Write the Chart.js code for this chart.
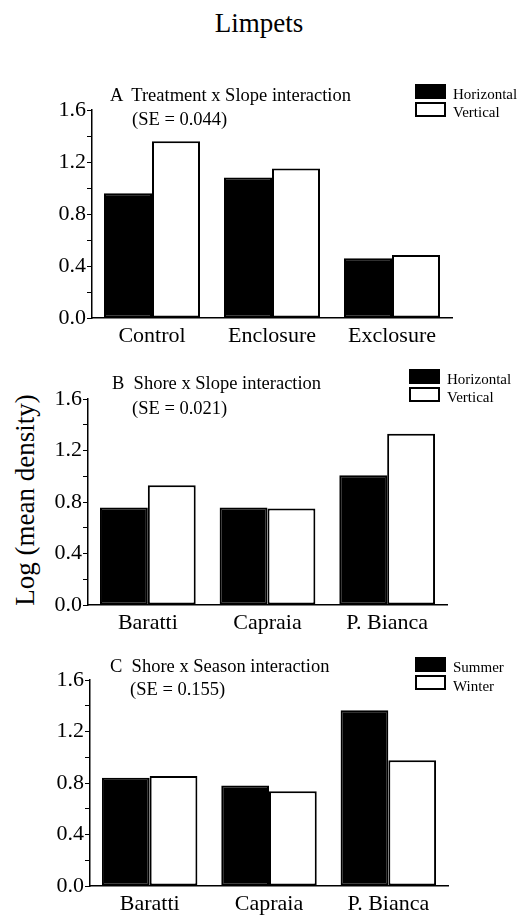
<!DOCTYPE html>
<html>
<head>
<meta charset="UTF-8">
<title>Limpets</title>
<script src="https://cdn.jsdelivr.net/npm/chart.js@4.4.1/dist/chart.umd.min.js"></script>
<style>
  body { margin: 0; background: #fff; }
  #page { position: relative; width: 518px; height: 915px; background: #fff; font-family: "Liberation Serif", "DejaVu Serif", serif; color: #000; overflow: hidden; }
  .txt { position: absolute; line-height: 1; white-space: pre; }
  .panel { position: absolute; left: 0; }
  .box { position: absolute; width: 27px; height: 11px; border: 2px solid #000; }
  #ytitle { position: absolute; font-size: 27px; line-height: 1; white-space: nowrap; transform: translate(-50%, -50%) rotate(-90deg); left: 25px; top: 500px; }
</style>
</head>
<body>
<div id="page">
  <div class="txt" style="left:0;width:518px;text-align:center;top:10px;font-size:27px;">Limpets</div>
  <div id="ytitle">Log (mean density)</div>
</div>

<script>
  // categories
  var treatments = ["Control", "Enclosure", "Exclosure"];
  var shores = ["Baratti", "Capraia", "P. Bianca"];

  // series values (log mean density)
  var treatHorizontal = [0.96, 1.08, 0.46];
  var treatVertical   = [1.36, 1.15, 0.485];
  var shoreHorizontal = [0.757, 0.757, 1.008];
  var shoreVertical   = [0.93, 0.75, 1.33];
  var shoreSummer     = [0.84, 0.78, 1.365];
  var shoreWinter     = [0.855, 0.735, 0.977];

  // y axis
  var yMax = 1.6;
  var yStep = 0.2;
  var yLabelEvery = 0.4;

  var panelTitles = ["A  Treatment x Slope interaction", "B  Shore x Slope interaction", "C  Shore x Season interaction"];
  var seLabels = ["(SE = 0.044)", "(SE = 0.021)", "(SE = 0.155)"];

  var page = document.getElementById("page");

  function addText(str, left, top, size) {
    var d = document.createElement("div");
    d.className = "txt";
    d.style.left = left + "px";
    d.style.top = top + "px";
    d.style.fontSize = size + "px";
    d.textContent = str;
    page.appendChild(d);
  }

  function addLegend(labels, left, tops, textTops) {
    var fills = ["#000", "#fff"];
    for (var i = 0; i < labels.length; i++) {
      var b = document.createElement("div");
      b.className = "box";
      b.style.left = left + "px";
      b.style.top = tops[i] + "px";
      b.style.background = fills[i];
      page.appendChild(b);
      addText(labels[i], left + 38, textTops[i], 15);
    }
  }

  function panel(p) {
    var wrap = document.createElement("div");
    wrap.className = "panel";
    wrap.style.top = p.top + "px";
    var c = document.createElement("canvas");
    c.width = 518;
    c.height = p.height;
    wrap.appendChild(c);
    page.appendChild(wrap);

    new Chart(c, {
      type: "bar",
      data: {
        labels: p.labels,
        datasets: [
          { label: p.names[0], data: p.a, backgroundColor: "#000", borderColor: "#000", borderWidth: 2, borderSkipped: false },
          { label: p.names[1], data: p.b, backgroundColor: "#fff", borderColor: "#000", borderWidth: 2, borderSkipped: false }
        ]
      },
      options: {
        responsive: false,
        animation: false,
        events: [],
        layout: { padding: { top: p.padTop, right: 518 - p.right, left: 0, bottom: 0 } },
        plugins: { legend: { display: false }, tooltip: { enabled: false } },
        datasets: { bar: { barPercentage: 1.0, categoryPercentage: 0.8 } },
        scales: {
          x: {
            grid: { display: false, drawTicks: false },
            border: { display: true, color: "#000", width: 1.5 },
            ticks: { color: "#000", padding: 5, font: { family: "Liberation Serif", size: 22 } },
            afterFit: function (s) { s.height = p.xHeight; }
          },
          y: {
            min: 0,
            max: yMax,
            grid: { display: true, drawOnChartArea: false, drawTicks: true, tickLength: 5, color: "#000", lineWidth: 1 },
            border: { display: true, color: "#000", width: 1.5 },
            ticks: {
              stepSize: yStep,
              color: "#000",
              padding: 1,
              autoSkip: false,
              font: { family: "Liberation Serif", size: 22 },
              callback: function (v) {
                var r = Math.round(v * 100) / 100;
                return Math.abs(r / yLabelEvery - Math.round(r / yLabelEvery)) < 1e-6 ? r.toFixed(1) : "";
              }
            },
            afterFit: function (s) { s.width = p.left; }
          }
        }
      }
    });
  }

  panel({ top: 60, height: 290, padTop: 50, left: 92, right: 452, xHeight: 32,
          labels: treatments, names: ["Horizontal", "Vertical"], a: treatHorizontal, b: treatVertical });
  panel({ top: 350, height: 290, padTop: 49, left: 88, right: 447, xHeight: 35,
          labels: shores, names: ["Horizontal", "Vertical"], a: shoreHorizontal, b: shoreVertical });
  panel({ top: 630, height: 285, padTop: 50, left: 90, right: 448, xHeight: 29,
          labels: shores, names: ["Summer", "Winter"], a: shoreSummer, b: shoreWinter });

  addText(panelTitles[0], 110, 86, 18.5);
  addText(seLabels[0], 132, 110, 18.5);
  addLegend(["Horizontal", "Vertical"], 415, [84, 102], [87, 105]);

  addText(panelTitles[1], 112, 374, 18.5);
  addText(seLabels[1], 132, 399, 18.5);
  addLegend(["Horizontal", "Vertical"], 409, [369, 387], [372, 390]);

  addText(panelTitles[2], 110, 657, 18.5);
  addText(seLabels[2], 130, 680, 18.5);
  addLegend(["Summer", "Winter"], 415, [657, 675], [660, 679]);
</script>
</body>
</html>
